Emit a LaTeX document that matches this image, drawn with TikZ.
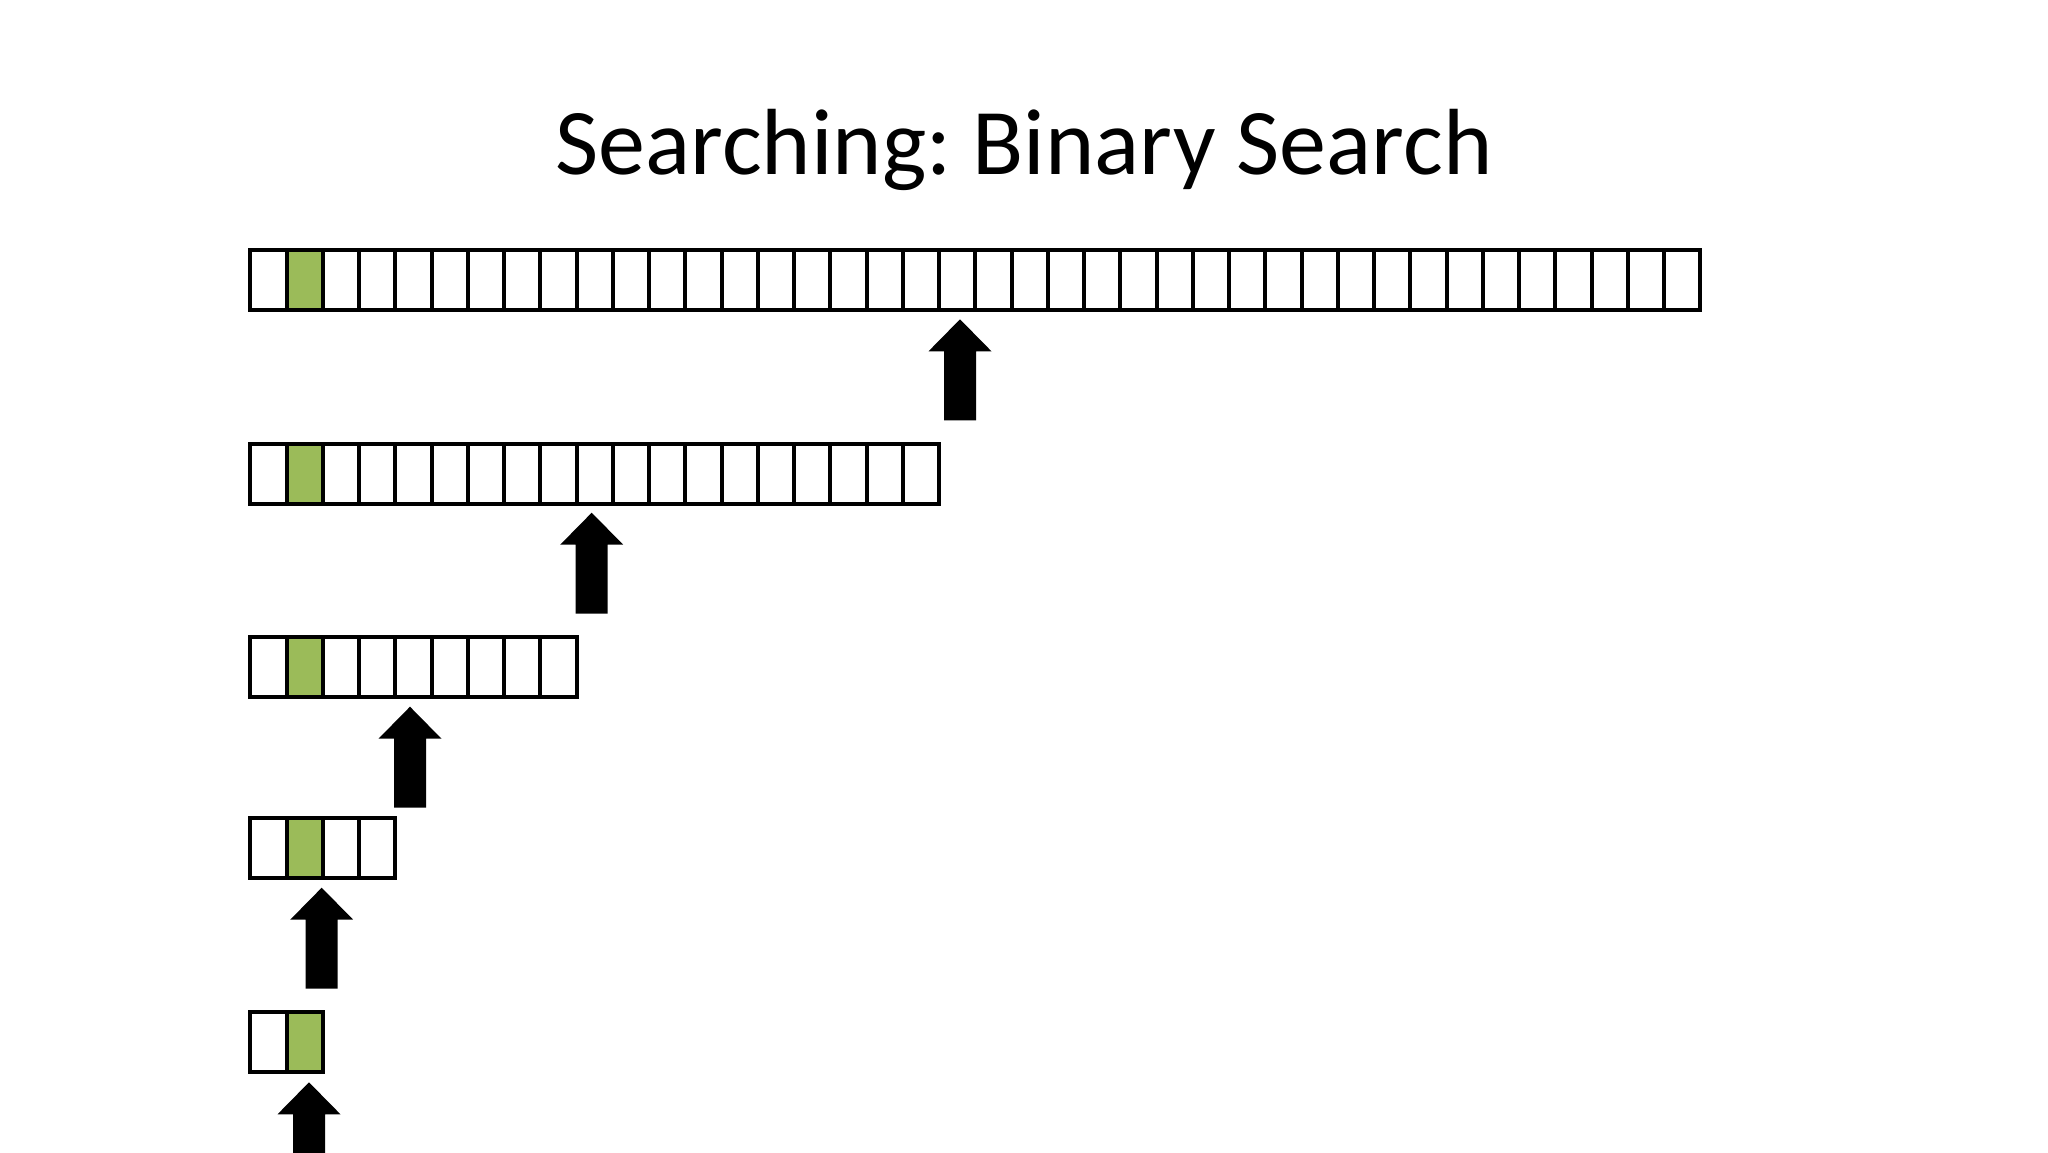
\documentclass[tikz,border=0pt]{standalone}
\usepackage{fontspec}
\setmainfont{Carlito}
\usetikzlibrary{positioning}
\definecolor{hitgreen}{HTML}{9BBB59}
\tikzset{cell/.style={
        draw,
        rectangle,
        line width=4pt,
        minimum width=36.25pt,
        minimum height=60pt,
        inner sep=0pt,
        outer sep=0pt,
        anchor=north west
}}
\tikzset{found/.style={cell, fill=hitgreen}}
\tikzset{probe/.style={fill=black}}
% one row of cells: name, number of cells, top
\newcommand{\cellrow}[3]{%
  \node[cell] (#1c1) at (250.3,#3) {};
  \node[found, right=0pt of #1c1] (#1c2) {};
  \foreach \i [count=\j from 2] in {3,...,#2}
    {\node[cell, right=0pt of #1c\j] (#1c\i) {};}
}
% block arrow pointing up at a coordinate
\newcommand{\probearrow}[1]{%
  \fill[probe] (#1) -- ++(31.5,32) -- ++(-15.5,0) -- ++(0,69)
    -- ++(-32,0) -- ++(0,-69) -- ++(-15.5,0) -- cycle;
}
\frenchspacing
\begin{document}
\begin{tikzpicture}[x=1pt,y=-1pt]
\fill[white] (0,0) rectangle (2048,1152);
\clip (0,0) rectangle (2048,1152);

\node[font=\fontsize{94}{112}\selectfont, anchor=base] (title) at (1024,174) {Searching: Binary Search};

\cellrow{r1}{40}{249.5}
\cellrow{r2}{19}{443.5}
\cellrow{r3}{9}{637}
\cellrow{r4}{4}{818}
\node[cell] (r5c1) at (250.3,1012) {};
\node[found, right=0pt of r5c1] (r5c2) {};

\coordinate (p1) at (960,319.3);
\coordinate (p2) at (591.7,512.7);
\coordinate (p3) at (410,706.7);
\coordinate (p4) at (321.7,887.7);
\coordinate (p5) at (309,1082.3);
\foreach \p in {p1,p2,p3,p4,p5}
  {\probearrow{\p}}
\end{tikzpicture}
\end{document}
